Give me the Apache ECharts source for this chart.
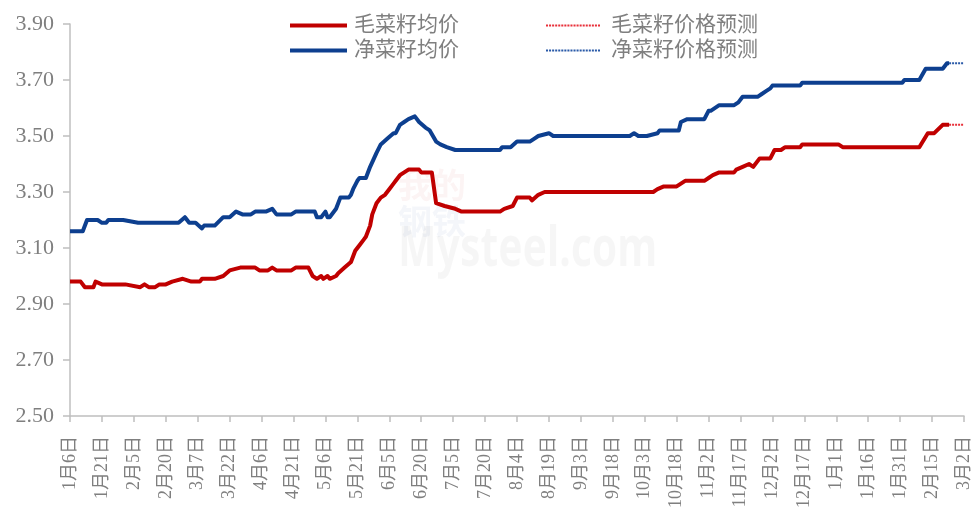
<!DOCTYPE html>
<html>
<head>
<meta charset="utf-8">
<script src="https://cdn.jsdelivr.net/npm/echarts@6/dist/echarts.min.js"></script>
<style>
html,body{margin:0;padding:0;background:#fff;}
#main{width:973px;height:526px;}
</style>
</head>
<body>
<div id="main"></div>
<script>
// 毛菜籽 / 净菜籽 均价（日度，取拐点）
var startDate = '2022-01-06';
var endDate = '2023-03-02';

var rawDates = ['2022-01-06','2022-01-11','2022-01-13','2022-01-17','2022-01-18','2022-01-21','2022-02-01','2022-02-08','2022-02-10','2022-02-12',
	'2022-02-15','2022-02-17','2022-02-20','2022-02-23','2022-02-28','2022-03-04','2022-03-08','2022-03-09','2022-03-15','2022-03-19',
	'2022-03-22','2022-03-27','2022-04-03','2022-04-05','2022-04-09','2022-04-11','2022-04-13','2022-04-20','2022-04-22','2022-04-28',
	'2022-04-30','2022-05-02','2022-05-04','2022-05-05','2022-05-07','2022-05-08','2022-05-11','2022-05-12','2022-05-15','2022-05-18',
	'2022-05-20','2022-05-22','2022-05-24','2022-05-25','2022-05-27','2022-05-28','2022-05-30','2022-06-01','2022-06-03','2022-06-05',
	'2022-06-07','2022-06-08','2022-06-10','2022-06-12','2022-06-14','2022-06-19','2022-06-20','2022-06-22','2022-06-25','2022-06-27',
	'2022-07-01','2022-07-06','2022-07-09','2022-07-27','2022-07-29','2022-08-02','2022-08-04','2022-08-10','2022-08-11','2022-08-14',
	'2022-08-17','2022-10-07','2022-10-09','2022-10-12','2022-10-18','2022-10-22','2022-10-31','2022-11-02','2022-11-04','2022-11-07',
	'2022-11-14','2022-11-15','2022-11-18','2022-11-21','2022-11-23','2022-11-26','2022-12-01','2022-12-03','2022-12-06','2022-12-08',
	'2022-12-15','2022-12-16','2023-01-02','2023-01-04','2023-02-09','2023-02-13','2023-02-16','2023-02-20','2023-02-23'];
var rawPrice = [2.98,2.98,2.96,2.96,2.98,2.97,2.97,2.96,2.97,2.96,
	2.96,2.97,2.97,2.98,2.99,2.98,2.98,2.99,2.99,3.00,
	3.02,3.03,3.03,3.02,3.02,3.03,3.02,3.02,3.03,3.03,
	3.00,2.99,3.00,2.99,3.00,2.99,3.00,3.01,3.03,3.05,
	3.09,3.11,3.13,3.14,3.18,3.22,3.26,3.28,3.29,3.31,
	3.33,3.34,3.36,3.37,3.38,3.38,3.37,3.37,3.37,3.26,
	3.25,3.24,3.23,3.23,3.24,3.25,3.28,3.28,3.27,3.29,
	3.30,3.30,3.31,3.32,3.32,3.34,3.34,3.35,3.36,3.37,
	3.37,3.38,3.39,3.40,3.39,3.42,3.42,3.45,3.45,3.46,
	3.46,3.47,3.47,3.46,3.46,3.51,3.51,3.54,3.54];

var netDates = ['2022-01-06','2022-01-12','2022-01-14','2022-01-19','2022-01-21','2022-01-23','2022-01-24','2022-01-31','2022-02-07','2022-02-26',
	'2022-03-01','2022-03-03','2022-03-06','2022-03-09','2022-03-10','2022-03-15','2022-03-19','2022-03-22','2022-03-25','2022-03-28',
	'2022-04-01','2022-04-03','2022-04-08','2022-04-11','2022-04-13','2022-04-20','2022-04-22','2022-05-01','2022-05-02','2022-05-04',
	'2022-05-06','2022-05-07','2022-05-08','2022-05-11','2022-05-13','2022-05-17','2022-05-18','2022-05-19','2022-05-21','2022-05-22',
	'2022-05-25','2022-05-27','2022-05-30','2022-06-01','2022-06-04','2022-06-07','2022-06-08','2022-06-10','2022-06-12','2022-06-14',
	'2022-06-17','2022-06-19','2022-06-22','2022-06-24','2022-06-27','2022-06-29','2022-07-02','2022-07-06','2022-07-27','2022-07-28',
	'2022-08-01','2022-08-04','2022-08-10','2022-08-12','2022-08-14','2022-08-19','2022-08-21','2022-09-26','2022-09-28','2022-09-30',
	'2022-10-04','2022-10-09','2022-10-10','2022-10-19','2022-10-20','2022-10-23','2022-10-31','2022-11-02','2022-11-03','2022-11-07',
	'2022-11-14','2022-11-16','2022-11-18','2022-11-25','2022-11-27','2022-11-29','2022-12-01','2022-12-02','2022-12-15','2022-12-16',
	'2023-02-01','2023-02-02','2023-02-09','2023-02-12','2023-02-20','2023-02-22','2023-02-23'];
var netPrice = [3.16,3.16,3.20,3.20,3.19,3.19,3.20,3.20,3.19,3.19,
	3.21,3.19,3.19,3.17,3.18,3.18,3.21,3.21,3.23,3.22,
	3.22,3.23,3.23,3.24,3.22,3.22,3.23,3.23,3.21,3.21,
	3.23,3.21,3.21,3.24,3.28,3.28,3.29,3.31,3.34,3.35,
	3.35,3.39,3.44,3.47,3.49,3.51,3.51,3.54,3.55,3.56,
	3.57,3.55,3.53,3.52,3.48,3.47,3.46,3.45,3.45,3.46,
	3.46,3.48,3.48,3.49,3.50,3.51,3.50,3.50,3.51,3.50,
	3.50,3.51,3.52,3.52,3.55,3.56,3.56,3.59,3.59,3.61,
	3.61,3.62,3.64,3.64,3.65,3.66,3.67,3.68,3.68,3.69,
	3.69,3.70,3.70,3.74,3.74,3.76,3.76];

var forecastDates = ['2023-02-23','2023-03-02'];
var rawForecast = [3.54,3.54];
var netForecast = [3.76,3.76];

var yTicks = {min:2.5, max:3.9, step:0.2};

function toDay(s){
	return Math.round((Date.parse(s)-Date.parse(startDate))/864e5);
}
function pairs(dates, vals){
	var out=[];
	for(var i=0;i<dates.length;i++){
		out.push([toDay(dates[i]), vals[i]]);
	}
	return out;
}
function dayLabel(v){
	var d=new Date(Date.parse(startDate)+v*864e5);
	return (d.getUTCMonth()+1)+'月'+d.getUTCDate()+'日';
}

// 图例虚线图标
var dotPath='path://';
for(var i=0;i<18;i++){
	dotPath+='M'+(i*3)+',0h2v2h-2z';
}

var textFont='"Liberation Serif","Noto Sans CJK SC",serif';
var gray='#7f7f7f';
var axisGray='#bfbfbf';

var myChart=echarts.init(document.getElementById('main'));

myChart.setOption({
	animation:false,
	backgroundColor:'#fff',
	grid:{left:70,right:4,top:24,bottom:110},
	legend:[{
		left:285,
		top:10,
		orient:'vertical',
		itemGap:4,
		itemWidth:57,
		itemHeight:4,
		icon:'rect',
		textStyle:{color:gray,fontSize:21,fontFamily:textFont,padding:[0,0,0,2]},
		data:['毛菜籽均价','净菜籽均价']
	},{
		left:541,
		top:10,
		orient:'vertical',
		itemGap:4,
		itemWidth:54,
		itemHeight:2,
		icon:dotPath,
		symbolKeepAspect:false,
		textStyle:{color:gray,fontSize:21,fontFamily:textFont,padding:[0,0,0,6]},
		data:['毛菜籽价格预测','净菜籽价格预测']
	}],
	graphic:[
		{type:'text',x:398,y:168,z:0,style:{text:'我的',fontSize:34,fontWeight:'bold',fontFamily:'"Noto Sans CJK SC"',fill:'rgba(200,40,40,0.05)'}},
		{type:'text',x:398,y:204,z:0,style:{text:'钢铁',fontSize:34,fontWeight:'bold',fontFamily:'"Noto Sans CJK SC"',fill:'rgba(40,70,160,0.05)'}},
		{type:'text',x:398,y:222,scaleX:0.73,z:0,style:{text:'Mysteel.com',fontSize:56,fontWeight:'bold',fontFamily:'"Noto Sans"',fill:'rgba(0,0,0,0.035)'}}
	],
	xAxis:{
		type:'value',
		min:0,
		max:toDay(endDate),
		interval:15,
		splitLine:{show:false},
		axisLine:{show:true,lineStyle:{color:axisGray,width:1.5}},
		axisTick:{show:true,length:6,lineStyle:{color:axisGray,width:1.5}},
		axisLabel:{
			rotate:90,
			margin:20,
			color:gray,
			fontSize:18,
			fontFamily:textFont,
			formatter:dayLabel
		}
	},
	yAxis:{
		type:'value',
		min:yTicks.min,
		max:yTicks.max,
		interval:yTicks.step,
		splitLine:{show:false},
		axisLine:{show:true,lineStyle:{color:axisGray,width:1.5}},
		axisTick:{show:true,inside:false,length:7,lineStyle:{color:axisGray,width:1.5}},
		axisLabel:{
			margin:16,
			color:gray,
			fontSize:22,
			fontFamily:textFont,
			formatter:function(v){return v.toFixed(2);}
		}
	},
	series:[{
		name:'毛菜籽均价',
		type:'line',
		symbol:'none',
		z:3,
		data:pairs(rawDates,rawPrice),
		itemStyle:{color:'#c00000'},
		lineStyle:{color:'#c00000',width:4,join:'round'}
	},{
		name:'净菜籽均价',
		type:'line',
		symbol:'none',
		z:3,
		data:pairs(netDates,netPrice),
		itemStyle:{color:'#0d3f8f'},
		lineStyle:{color:'#0d3f8f',width:4,join:'round'}
	},{
		name:'毛菜籽价格预测',
		type:'line',
		symbol:'none',
		z:2,
		data:pairs(forecastDates,rawForecast),
		itemStyle:{color:'#e8303a'},
		lineStyle:{color:'#e8303a',width:2,type:[2,1]}
	},{
		name:'净菜籽价格预测',
		type:'line',
		symbol:'none',
		z:2,
		data:pairs(forecastDates,netForecast),
		itemStyle:{color:'#2a5aa8'},
		lineStyle:{color:'#2a5aa8',width:2,type:[2,1]}
	}]
});
</script>
</body>
</html>
